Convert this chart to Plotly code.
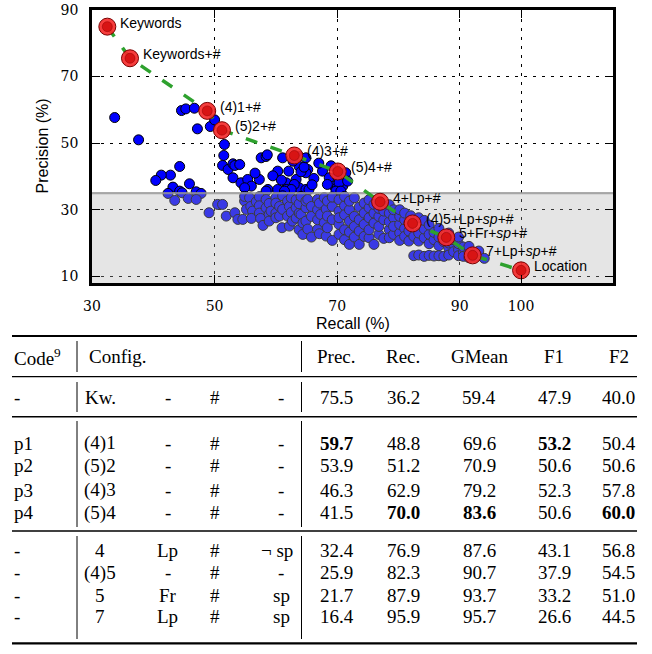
import plotly.graph_objects as go

W, H = 652, 654

# ---------------- scatter data (Recall %, Precision %) ----------------
blue_recall = [
    33.7, 37.6, 44.6, 45.3, 46.7, 47.2, 49.3, 50.0, 51.6, 51.5, 51.3, 52.2, 53.0, 53.3, 53.0, 54.6,
    44.3, 42.8, 41.3, 40.4, 45.9, 43.2, 44.3, 44.7, 47.0, 47.8, 42.4,
    54.3, 55.4, 56.0, 57.3, 58.7, 57.6, 58.4, 61.1, 60.3, 62.1, 63.8, 65.2, 64.9, 67.6, 68.7, 70.0,
    71.4, 69.5, 70.9, 61.7, 63.3, 63.8, 61.7, 64.9, 60.3, 64.1, 64.6, 68.4, 70.0, 63.0, 62.5, 65.4,
    61.4, 58.4, 54.9, 54.1, 70.3, 71.7, 69.8, 70.6, 58.6, 63.8, 64.9,
    43.5, 45.7, 47.0, 49.1, 50.5, 51.3, 51.9, 53.3, 53.8, 54.9, 55.2, 54.6, 54.9, 55.7, 55.9, 56.2,
    56.0, 56.8, 57.3, 57.3, 57.3, 57.5, 57.9, 58.4, 58.4, 58.9, 58.9, 58.9, 59.2, 60.0, 60.0, 60.0,
    60.0, 60.6, 60.6, 61.0, 61.1, 61.1, 61.9, 61.9, 62.2, 62.2, 62.5, 62.5, 62.7, 63.3, 63.3, 63.3,
    63.8, 63.8, 63.8, 64.1, 64.1, 64.4, 64.4, 64.9, 64.9, 64.9, 65.2, 65.2, 65.8, 65.8, 65.8, 66.8,
    66.8, 66.8, 66.8, 67.3, 67.1, 67.1, 67.9, 67.9, 68.2, 68.2, 68.4, 68.4, 68.4, 69.2, 69.2, 69.2,
    69.2, 70.3, 70.3, 70.3, 70.3, 70.3, 71.2, 71.2, 71.2, 71.2, 71.2, 72.0, 72.0, 72.0, 72.0, 72.0,
    72.8, 72.8, 72.8, 72.8, 73.6, 73.6, 73.6, 73.6, 74.4, 74.4, 74.4, 74.4, 75.2, 75.2, 75.2, 75.2,
    75.2, 76.0, 76.0, 76.0, 76.0, 76.8, 76.8, 76.8, 76.8, 77.6, 77.6, 77.6, 78.5, 78.5, 78.5, 78.5,
    78.5, 79.2, 79.2, 79.2, 79.2, 80.2, 80.2, 80.2, 80.2, 80.2, 81.0, 81.0, 81.0, 81.0, 81.7, 81.7,
    81.7, 82.0, 82.5, 82.5, 83.3, 83.3, 83.3, 83.3, 84.2, 84.2, 84.2, 84.2, 85.0, 85.0, 85.0, 85.0,
    85.8, 85.8, 85.8, 86.6, 86.6, 86.6, 86.6, 87.4, 87.4, 88.2, 88.2, 88.2, 88.2, 89.0, 89.0, 89.0,
    89.8, 89.8, 89.8, 89.8, 90.6, 90.6, 90.6, 91.5, 91.5, 91.5, 92.3, 92.3, 93.1, 93.1, 94.0,
    59.5, 62.8, 66.2, 67.0, 56.6, 60.9, 65.9, 69.0,
]
blue_precision = [
    57.7, 51.0, 59.8, 60.3, 60.5, 54.3, 55.0, 57.0, 49.6, 46.3, 43.3, 42.1, 43.8, 43.3, 39.6, 37.8,
    43.0, 40.4, 40.4, 38.8, 37.8, 36.8, 35.6, 35.1, 35.4, 34.9, 34.9,
    38.1, 39.1, 37.1, 39.1, 36.1, 45.6, 46.0, 45.6, 41.6, 41.6, 43.0, 42.1, 41.1, 41.6, 39.6, 40.1,
    41.1, 37.1, 37.1, 38.1, 39.1, 36.6, 36.1, 36.1, 36.1, 41.4, 42.8, 37.6, 36.6, 37.6, 36.1, 36.1,
    35.6, 35.6, 36.6, 43.6, 38.1, 38.6, 35.6, 35.6, 46.5, 46.0, 45.6,
    32.8, 33.4, 33.1, 29.1, 31.6, 31.6, 28.1, 29.1, 27.1, 32.6, 30.1, 27.1, 34.0, 33.6, 31.0, 29.6,
    27.4, 32.4, 33.9, 31.2, 29.0, 27.4, 25.3, 33.1, 30.6, 31.9, 28.6, 26.6, 29.6, 33.6, 32.0, 29.0,
    27.6, 31.0, 28.1, 24.6, 30.1, 34.2, 28.1, 32.6, 25.1, 31.0, 33.6, 29.2, 26.6, 30.6, 33.0, 27.5,
    24.0, 29.0, 31.8, 28.6, 34.0, 22.6, 26.0, 26.6, 30.6, 32.6, 33.1, 24.2, 28.0, 21.8, 31.0, 33.1,
    24.1, 27.0, 30.0, 28.6, 32.0, 22.8, 26.1, 33.6, 22.1, 30.2, 28.1, 24.6, 32.6, 27.0, 20.8, 31.0,
    33.8, 29.6, 25.6, 22.6, 33.0, 27.6, 31.2, 21.0, 24.0, 28.5, 34.0, 19.6, 26.6, 30.0, 32.6, 23.3,
    28.0, 21.8, 33.6, 25.0, 19.6, 30.8, 23.6, 27.0, 32.0, 22.0, 25.6, 29.0, 21.6, 27.6, 30.6, 24.0,
    33.0, 19.6, 26.0, 29.0, 31.6, 22.6, 25.0, 28.0, 30.4, 21.4, 27.0, 29.6, 24.0, 26.4, 29.0, 31.5,
    21.6, 22.6, 27.6, 25.0, 30.0, 23.0, 25.6, 28.0, 20.8, 30.0, 24.4, 27.0, 22.0, 29.0, 20.6, 26.0,
    23.6, 28.2, 22.0, 16.2, 20.6, 23.0, 16.4, 27.6, 21.6, 24.2, 16.0, 26.8, 19.8, 22.6, 16.3, 25.4,
    21.0, 23.2, 16.1, 19.2, 21.8, 16.2, 24.4, 20.4, 16.0, 18.6, 20.0, 16.4, 23.0, 19.6, 17.4, 21.0,
    18.0, 16.2, 19.8, 21.8, 17.2, 18.8, 16.0, 17.4, 15.6, 19.0, 16.8, 15.8, 16.2, 17.6, 15.4,
    40.2, 44.6, 39.4, 44.0, 41.0, 38.9, 37.5, 43.2,
]

red_recall = [32.5, 36.2, 48.8, 51.2, 63.0, 70.1, 77.0, 82.3, 87.8, 92.1, 100.0]
red_precision = [85.0, 75.5, 59.7, 53.9, 46.3, 41.5, 32.4, 25.9, 21.7, 16.3, 11.8]
SP = "<i>sp</i>"
red_labels = ["Keywords", "Keywords+#", "(4)1+#", "(5)2+#", "(4)3+#", "(5)4+#", "4+Lp+#",
              "(4)5+Lp+" + SP + "+#", "5+Fr+" + SP + "+#", "7+Lp+" + SP + "+#", "Location"]

band_top = 35  # shaded low-precision band upper limit

x_ticks = [30, 50, 70, 90, 100]
y_ticks = [10, 30, 50, 70, 90]

# ---------------- table data ----------------
header = ["Prec.", "Rec.", "GMean", "F1", "F2"]
codes = ["-", "p1", "p2", "p3", "p4", "-", "-", "-", "-"]
cfg_a = ["Kw.", "(4)1", "(5)2", "(4)3", "(5)4", "4", "(4)5", "5", "7"]
cfg_b = ["-", "-", "-", "-", "-", "Lp", "-", "Fr", "Lp"]
cfg_c = ["#", "#", "#", "#", "#", "#", "#", "#", "#"]
cfg_d = ["-", "-", "-", "-", "-", "\u00ac sp", "-", "sp", "sp"]
prec = [75.5, 59.7, 53.9, 46.3, 41.5, 32.4, 25.9, 21.7, 16.4]
rec = [36.2, 48.8, 51.2, 62.9, 70.0, 76.9, 82.3, 87.9, 95.9]
gmean = [59.4, 69.6, 70.9, 79.2, 83.6, 87.6, 90.7, 93.7, 95.7]
f1 = [47.9, 53.2, 50.6, 52.3, 50.6, 43.1, 37.9, 33.2, 26.6]
f2 = [40.0, 50.4, 50.6, 57.8, 60.0, 56.8, 54.5, 51.0, 44.5]
bold_rows = {"prec": [1], "rec": [4], "gmean": [4], "f1": [1], "f2": [4]}

# ---------------- figure ----------------
fig = go.Figure()

fig.add_trace(go.Scatter(
    x=blue_recall, y=blue_precision, mode="markers",
    marker=dict(size=10, color="#0000ff", line=dict(color="black", width=1)),
    hoverinfo="skip", showlegend=False))

fig.add_trace(go.Scatter(
    x=[30, 115, 115, 30, 30], y=[8, 8, band_top, band_top, 8], mode="lines",
    fill="toself", fillcolor="rgba(175,175,175,0.33)", line=dict(width=0),
    hoverinfo="skip", showlegend=False))
fig.add_trace(go.Scatter(
    x=[30, 115], y=[band_top, band_top], mode="lines",
    line=dict(color="rgba(150,150,150,0.8)", width=2.2),
    hoverinfo="skip", showlegend=False))

fig.add_trace(go.Scatter(
    x=red_recall, y=red_precision, mode="lines",
    line=dict(color="#2ea12e", width=3.5, dash="12px,14px"),
    hoverinfo="skip", showlegend=False))
fig.add_trace(go.Scatter(
    x=red_recall, y=red_precision, mode="markers",
    marker=dict(size=17, color="rgba(245,45,45,0.92)", line=dict(color="#7a0000", width=1)),
    hoverinfo="skip", showlegend=False))
fig.add_trace(go.Scatter(
    x=red_recall, y=red_precision, mode="markers",
    marker=dict(size=10, color="#d81414", line=dict(color="rgba(140,0,0,0.45)", width=1)),
    hoverinfo="skip", showlegend=False))

annotations = []
for rx, ry, lab in zip(red_recall, red_precision, red_labels):
    annotations.append(dict(x=rx, y=ry, xref="x", yref="y", text=lab, showarrow=False,
                            xanchor="left", yanchor="middle", xshift=11, yshift=4,
                            font=dict(family="Liberation Sans", size=14, color="black")))


def px(p):
    return p / W


def py(p):
    return 1 - p / H


annotations.append(dict(x=px(352.5), y=py(323), xref="paper", yref="paper", text="Recall (%)",
                        showarrow=False, xanchor="center", yanchor="middle",
                        font=dict(family="Liberation Sans", size=16, color="black")))
annotations.append(dict(x=px(42), y=py(146.5), xref="paper", yref="paper", text="Precision (%)",
                        showarrow=False, xanchor="center", yanchor="middle", textangle=-90,
                        font=dict(family="Liberation Sans", size=16, color="black")))

axis_common = dict(showgrid=True, gridcolor="black", gridwidth=1, griddash="3px,6px",
                   showline=True, linecolor="black", linewidth=2.5, mirror="ticks",
                   ticks="inside", ticklen=8, tickwidth=1.2, tickcolor="black",
                   tickfont=dict(family="DejaVu Serif", size=14, color="black"),
                   zeroline=False, ticklabelstandoff=8)
fig.update_xaxes(range=[30, 115], domain=[px(92), px(613)], tickvals=x_ticks, **axis_common)
fig.update_yaxes(range=[8, 90], domain=[py(283), py(10)], tickvals=y_ticks, **axis_common)

# ---------------- table ----------------
TF = dict(family="Liberation Serif", size=19, color="black")
header_y = 356.7
row_y = [397.3, 443.3, 465.7, 490.0, 512.7, 550.0, 572.7, 595.0, 616.7]
code_x = 12
cfg_x = [100, 167.5, 215, 281]
metric_x = [336.5, 403, 479, 554, 618.5]


def tcell(x, y, text, anchor="center"):
    annotations.append(dict(x=px(x), y=py(y), xref="paper", yref="paper", text=text,
                            showarrow=False, xanchor=anchor, yanchor="middle", font=TF))


tcell(code_x, header_y, "Code<sup>9</sup>", "left")
tcell(87, header_y, "Config.", "left")
for hx, h in zip(metric_x, header):
    tcell(hx, header_y, h)

metric_cols = [("prec", prec), ("rec", rec), ("gmean", gmean), ("f1", f1), ("f2", f2)]
for i, y in enumerate(row_y):
    tcell(code_x, y, codes[i], "left")
    for j, (cx, col) in enumerate(zip(cfg_x, [cfg_a, cfg_b, cfg_c, cfg_d])):
        x_here = 277 if (j == 3 and col[i].startswith("\u00ac")) else cx
        tcell(x_here, y, col[i])
    for mx, (name, vals) in zip(metric_x, metric_cols):
        s = f"{vals[i]:.1f}"
        if i in bold_rows[name]:
            s = f"<b>{s}</b>"
        tcell(mx, y, s)

shapes = []
for yy, w in [(336, 2.2), (376.7, 1.2), (416.7, 1.5), (531, 1.5), (643.3, 2.2)]:
    shapes.append(dict(type="line", xref="paper", yref="paper", x0=px(12), x1=px(637),
                       y0=py(yy), y1=py(yy), line=dict(color="black", width=w)))
for (y0, y1) in [(341, 372), (382, 412), (421, 527), (536, 639)]:
    for xx in [77, 301.5]:
        shapes.append(dict(type="line", xref="paper", yref="paper", x0=px(xx), x1=px(xx),
                           y0=py(y0), y1=py(y1), line=dict(color="black", width=1)))

fig.update_layout(
    width=W, height=H, autosize=False,
    margin=dict(l=0, r=0, t=0, b=0),
    template="none",
    paper_bgcolor="white", plot_bgcolor="white",
    showlegend=False,
    annotations=annotations, shapes=shapes,
)

fig.write_html("out.html", config={"displayModeBar": False},
               post_script="document.body.style.margin='0px';")
